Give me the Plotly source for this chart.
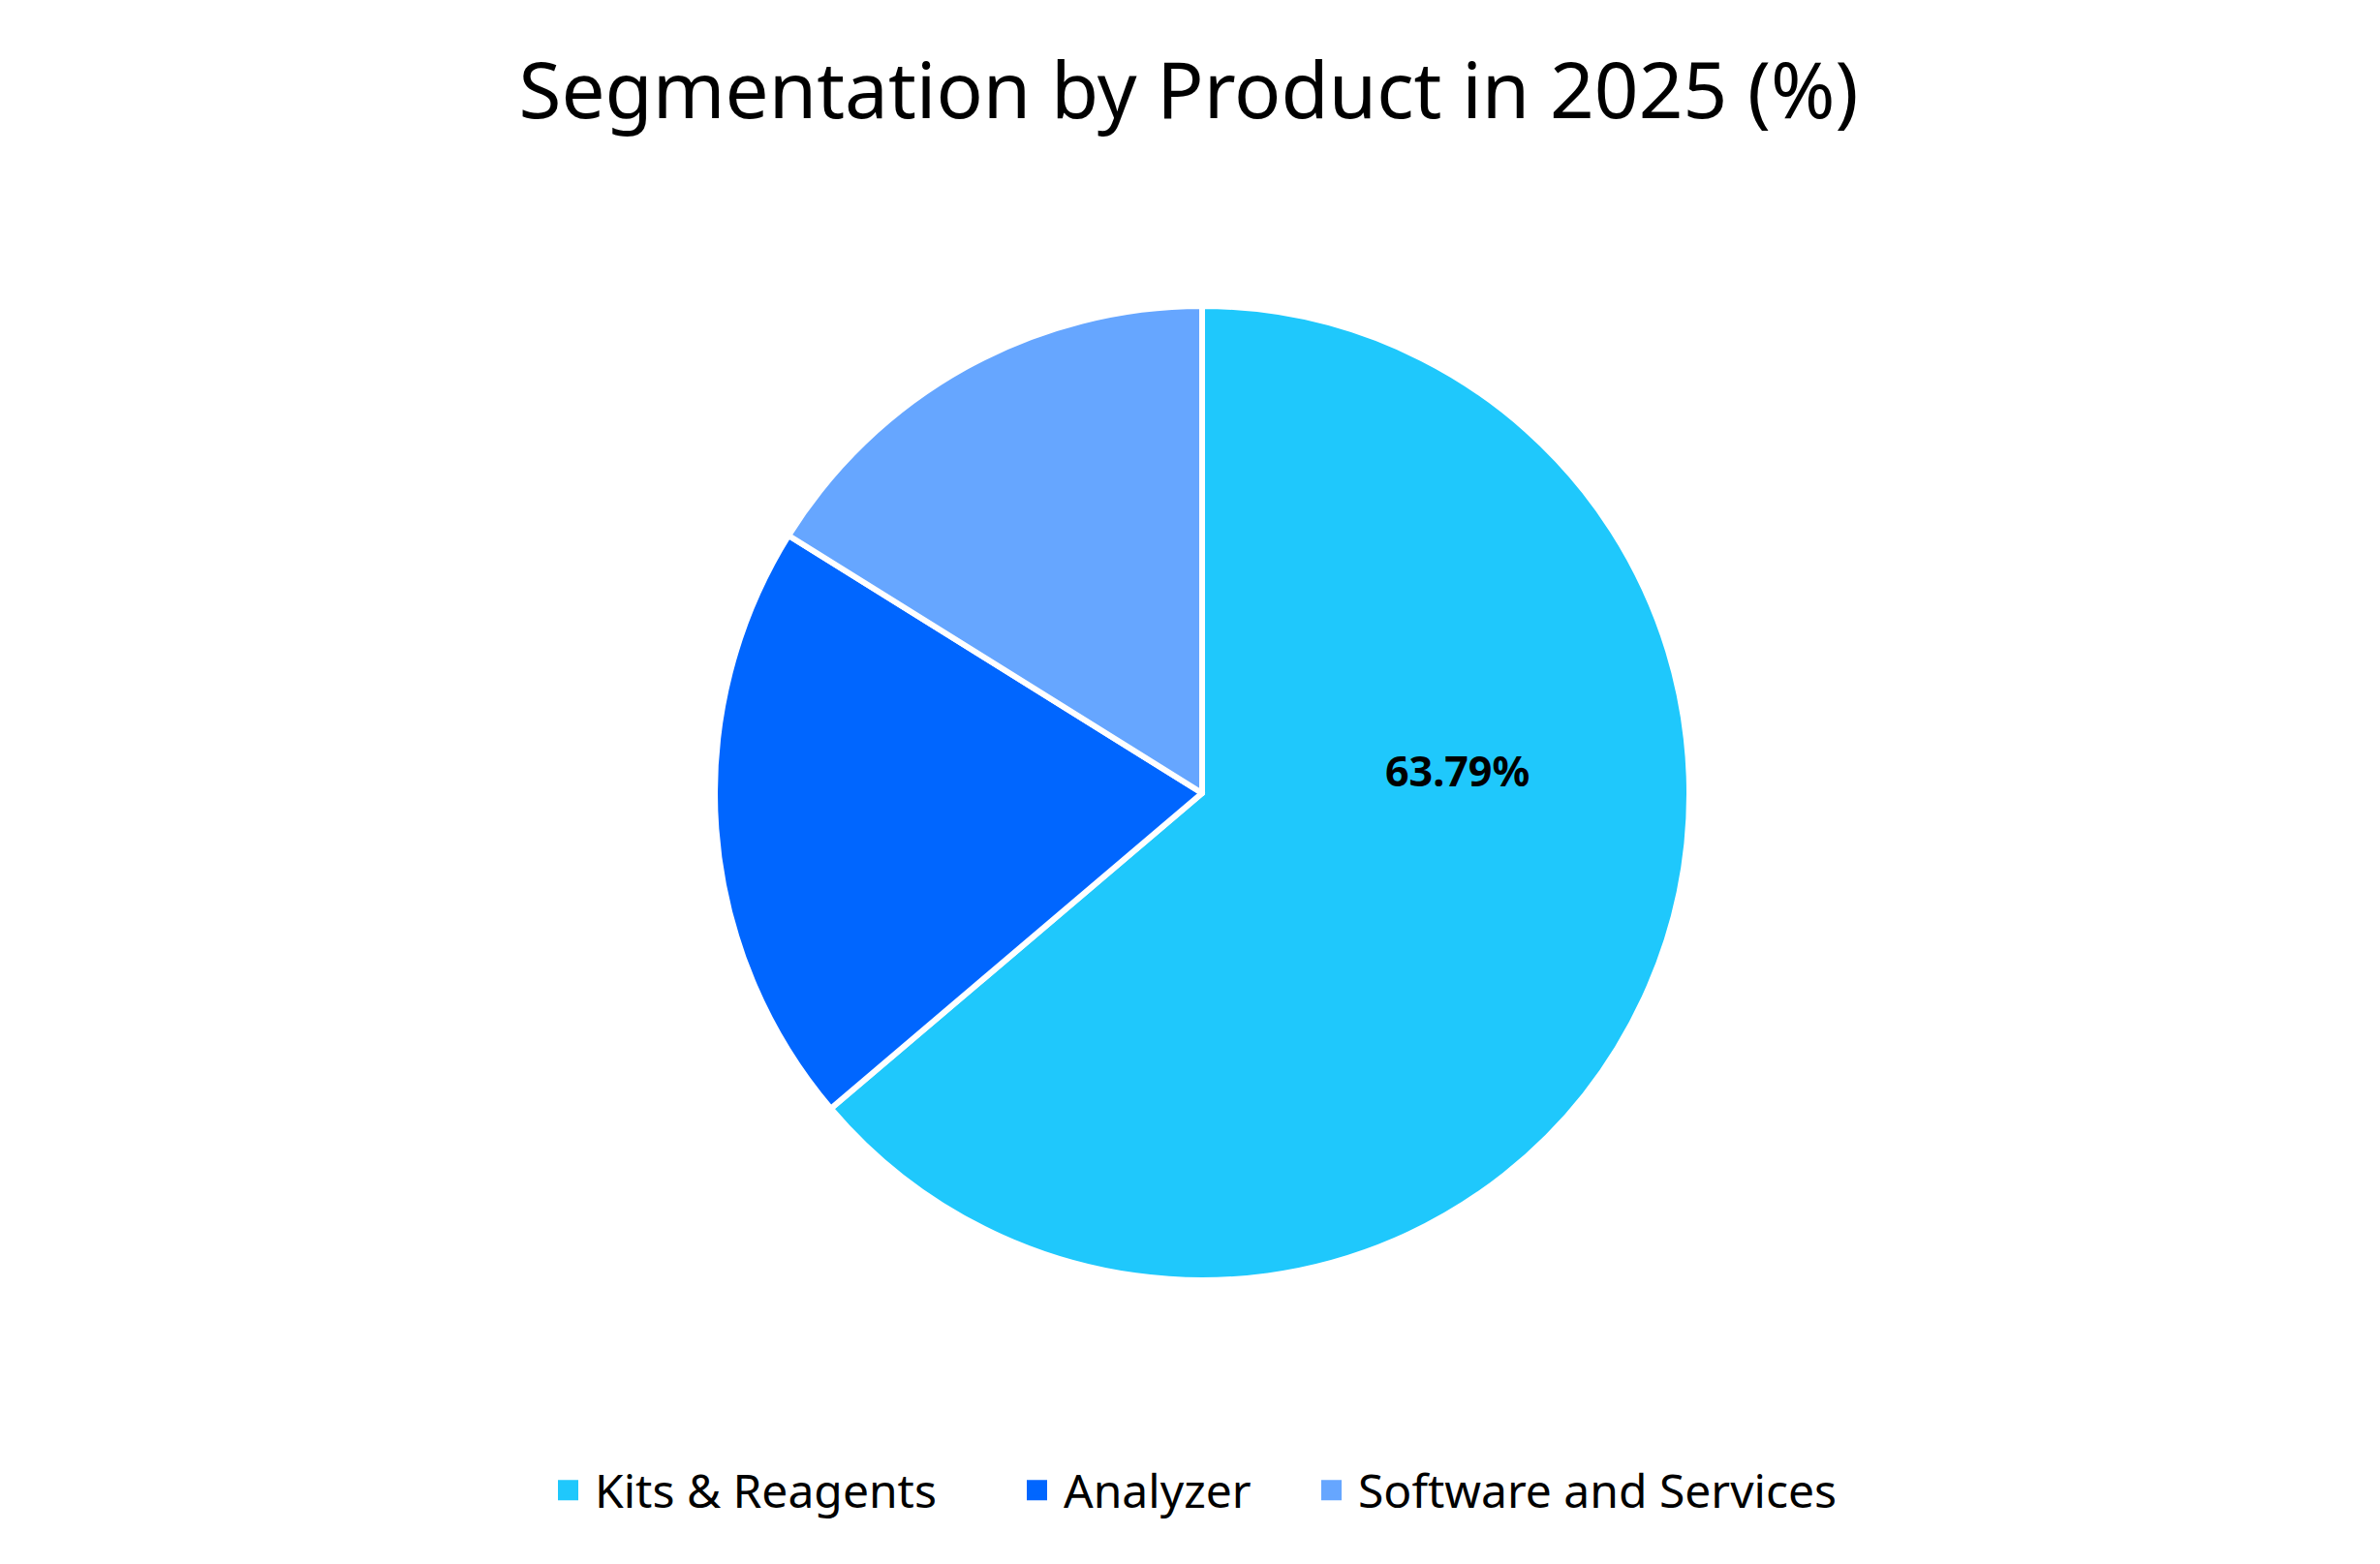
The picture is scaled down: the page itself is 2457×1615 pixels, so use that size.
import plotly.graph_objects as go

categories = ["Kits & Reagents", "Analyzer", "Software and Services"]
values = [63.79, 20.08, 16.13]
colors = ["#1FC8FC", "#0066FF", "#66A6FF"]
shown_label = "Kits & Reagents"

W, H = 2457, 1615
OFF = 8  # default page body margin
cx, cy, r = 1241 - OFF, 819 - OFF, 503

fig = go.Figure()
fig.add_trace(go.Pie(
    labels=categories,
    values=values,
    sort=False,
    direction="clockwise",
    rotation=0,
    marker=dict(colors=colors, line=dict(color="white", width=6)),
    textinfo="none",
    hoverinfo="label+percent",
    showlegend=False,
    domain=dict(x=[(cx - r) / W, (cx + r) / W], y=[1 - (cy + r) / H, 1 - (cy - r) / H]),
))

legend_names = ["legend", "legend2", "legend3"]
for cat, col, lg in zip(categories, colors, legend_names):
    fig.add_trace(go.Scatter(
        x=[None], y=[None], mode="markers", name=cat, legend=lg,
        marker=dict(symbol="square", size=16, color=col, line=dict(color=col, width=5)),
    ))

idx = categories.index(shown_label)
fig.add_annotation(
    x=(1505 - OFF) / W, y=1 - (796 - OFF) / H, xref="paper", yref="paper",
    text="<b>%.2f%%</b>" % values[idx], showarrow=False,
    font=dict(family="Noto Sans", size=43, color="black"),
)

leg_font = dict(family="Noto Sans", size=48, color="black")
marker_left = [575, 1059, 1363]
leg_y = 1 - (1539 - OFF) / H
legs = {}
for lg, ml in zip(legend_names, marker_left):
    legs[lg] = dict(orientation="h", x=(ml - OFF - 16) / W, xanchor="left", y=leg_y, yanchor="middle",
                    font=leg_font, itemwidth=45, bgcolor="rgba(0,0,0,0)")

fig.update_layout(
    width=W, height=H,
    margin=dict(l=0, r=0, t=0, b=0),
    paper_bgcolor="white",
    plot_bgcolor="white",
    xaxis=dict(visible=False),
    yaxis=dict(visible=False),
    title=dict(text="Segmentation by Product in 2025 (%)", x=(1227 - OFF) / W, xanchor="center",
               y=1 - (94 - OFF) / H, yanchor="middle",
               font=dict(family="Noto Sans", size=80, color="black")),
    showlegend=True,
    **legs,
)

fig.write_html("out.html")
